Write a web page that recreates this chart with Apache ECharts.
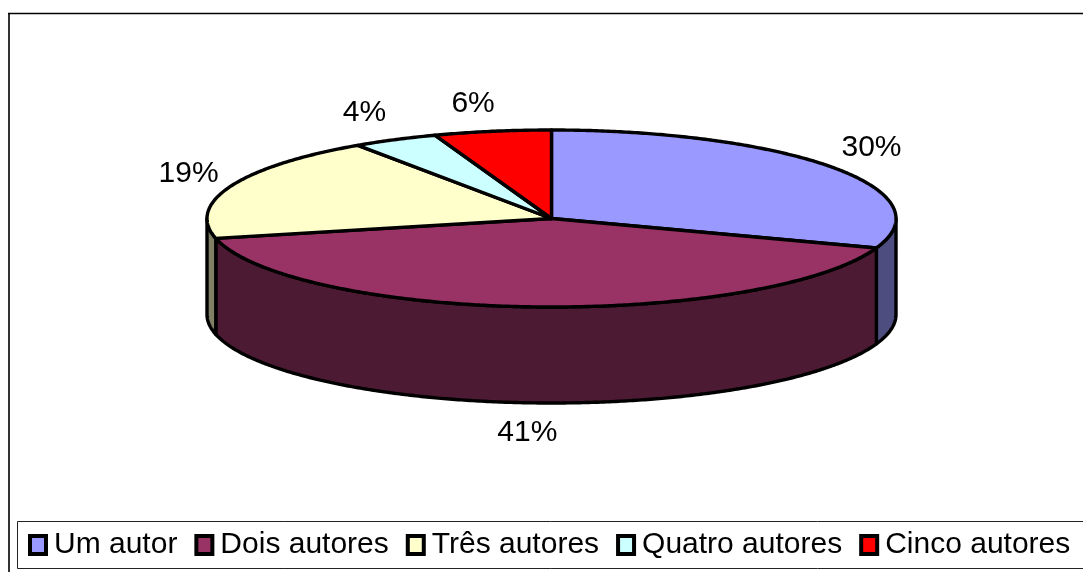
<!DOCTYPE html>
<html><head><meta charset="utf-8">
<script src="https://cdn.jsdelivr.net/npm/echarts@6/dist/echarts.min.js"></script>
<style>html,body{margin:0;padding:0;background:#fff}#c{width:1083px;height:572px}</style>
</head><body><div id="c"></div>
<script>
const categories = ['Um autor','Dois autores','Três autores','Quatro autores','Cinco autores'];
const shares = [30.4, 41, 19.1, 4, 5.5];
const tickLabels = ['30%','41%','19%','4%','6%'];
const topColors = ['#9999FF','#993366','#FFFFCC','#CCFFFF','#FF0000'];
const sideColors = ['#4D4D80','#4D1A33','#808066','#668080','#800000'];

const cx=551.5, cy=218.5, rx=344.5, ry=88.5, depth=96, lw=3.4;
const labelRx=392, labelRy=122;
const labelNudge=[[0,0],[-2,-4],[2,0],[-9,3],[-11,5]];
const total = shares.reduce((a,b)=>a+b,0);
const pt=(deg,dy)=>{const t=deg*Math.PI/180;return [cx+rx*Math.sin(t),cy-ry*Math.cos(t)+(dy||0)];};
function arc(a,b,dy){const n=Math.max(2,Math.ceil(Math.abs(b-a)*2));const p=[];for(let i=0;i<=n;i++)p.push(pt(a+(b-a)*i/n,dy));return p;}

function renderSlice(params,api){
  const a=api.value(0)/total*360, b=api.value(1)/total*360, i=params.seriesIndex;
  const children=[];
  const sa=Math.max(a,90), sb=Math.min(b,270);
  if(sb>sa){
    const pts=arc(sa,sb,0).concat(arc(sb,sa,depth));
    children.push({type:'polygon',z2:1,shape:{points:pts},style:{fill:sideColors[i],stroke:'#000',lineWidth:lw,lineJoin:'round'}});
  }
  const topPts=[[cx,cy]].concat(arc(a,b,0));
  children.push({type:'polygon',z2:2,shape:{points:topPts},style:{fill:topColors[i],stroke:'#000',lineWidth:lw,lineJoin:'round'}});
  const m=(a+b)/2*Math.PI/180;
  const c=Math.cos(m);
  const lx=cx+labelRx*Math.sin(m)+labelNudge[i][0], ly=cy-labelRy*c+(c<0?depth:0)+labelNudge[i][1];
  children.push({type:'text',z2:3,style:{x:lx,y:ly,text:tickLabels[i],fill:'#000',font:'30px "Liberation Sans"',textAlign:'center',textVerticalAlign:'middle'}});
  return {type:'group',children};
}

let acc=0;
const series=categories.map((name,i)=>{
  const start=acc; acc+=shares[i];
  return {name,type:'custom',coordinateSystem:'none',silent:true,animation:false,
    renderItem:renderSlice,itemStyle:{color:topColors[i]},data:[[start,acc]]};
});

const chart=echarts.init(document.getElementById('c'),null,{renderer:'canvas'});
chart.setOption({
  animation:false,backgroundColor:'#fff',
  graphic:[
    {type:'line',silent:true,shape:{x1:9,y1:13,x2:9,y2:572},style:{stroke:'#333',lineWidth:2}},
    {type:'line',silent:true,shape:{x1:8,y1:13.5,x2:1083,y2:13.5},style:{stroke:'#000',lineWidth:1.4}},
    {type:'rect',silent:true,z:-1,shape:{x:17.5,y:521.5,width:1100,height:47},style:{fill:'#fff',stroke:'#222',lineWidth:1}}
  ],
  legend:{left:28,top:530,padding:0,itemGap:17,itemWidth:16,itemHeight:18,
    itemStyle:{borderColor:'#000',borderWidth:4},
    textStyle:{fontFamily:'Liberation Sans',fontSize:30,color:'#000',padding:[0,0,0,3]},
    data:categories.map(name=>({name,icon:'rect'}))},
  series
});
</script></body></html>
